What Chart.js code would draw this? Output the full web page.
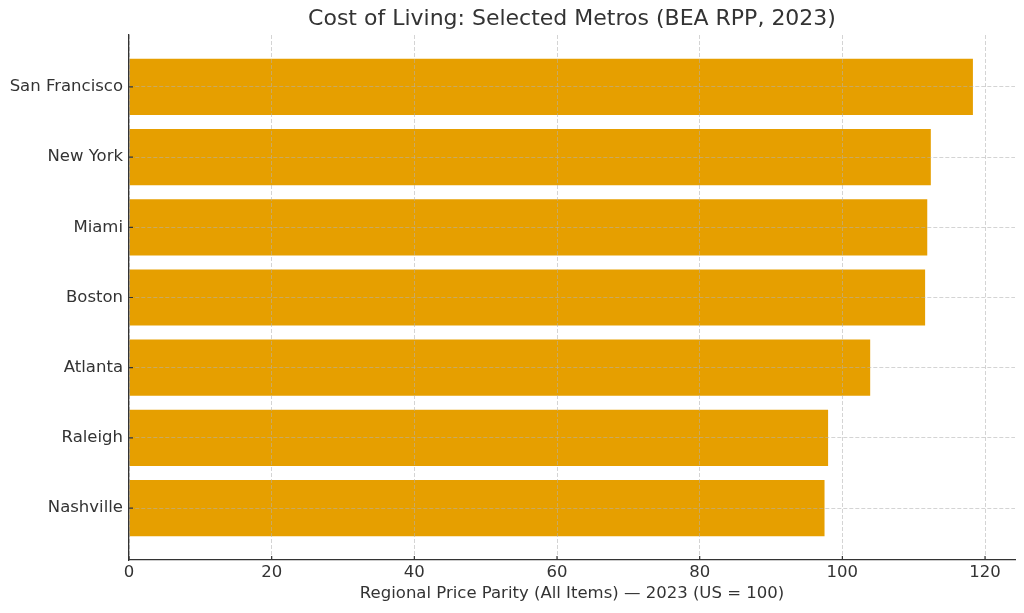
<!DOCTYPE html>
<html>
<head>
<meta charset="utf-8">
<title>Cost of Living: Selected Metros</title>
<script src="https://cdn.jsdelivr.net/npm/chart.js@4.4.1/dist/chart.umd.min.js"></script>
<style>
    html, body { margin: 0; padding: 0; background: #fff; }
    #wrap { width: 1024px; height: 613px; }
</style>
</head>
<body>
<div id="wrap"><canvas id="rppChart"></canvas></div>
<script>
// ===== Data =====
const metros = ["San Francisco", "New York", "Miami", "Boston", "Atlanta", "Raleigh", "Nashville"];
const rppValues = [118.3, 112.4, 111.9, 111.6, 103.9, 98.0, 97.5];
const xTicks = [0, 20, 40, 60, 80, 100, 120];
const chartTitle = "Cost of Living: Selected Metros (BEA RPP, 2023)";

const axisColor = "#333333";
const gridColor = "rgba(176, 176, 176, 0.55)";
const fontFamily = "'DejaVu Sans', sans-serif";

// ===== Title centred over the plot area, plus inward tick marks =====
const plotExtras = {
    id: "plotExtras",
    afterDraw(chart) {
        const { ctx, chartArea, scales } = chart;
        ctx.save();
        ctx.fillStyle = axisColor;
        ctx.font = `22px ${fontFamily}`;
        ctx.textAlign = "center";
        ctx.textBaseline = "middle";
        ctx.fillText(chartTitle, (chartArea.left + chartArea.right) / 2, 19);

        // short ticks pointing into the plot
        ctx.strokeStyle = axisColor;
        ctx.lineWidth = 1.2;
        ctx.beginPath();
        scales.x.ticks.forEach((t) => {
            const px = scales.x.getPixelForValue(t.value);
            ctx.moveTo(px, chartArea.bottom);
            ctx.lineTo(px, chartArea.bottom - 4);
        });
        scales.y.ticks.forEach((t) => {
            const py = scales.y.getPixelForValue(t.value);
            ctx.moveTo(chartArea.left, py);
            ctx.lineTo(chartArea.left + 4, py);
        });
        ctx.stroke();
        ctx.restore();
    }
};

// ===== Chart =====
const ctx = document.getElementById("rppChart").getContext("2d");
new Chart(ctx, {
    type: "bar",
    data: {
        datasets: [{
            label: "RPP",
            data: rppValues.map((v, i) => ({ x: v, y: i })),
            backgroundColor: "#E69F00",
            borderWidth: 0,
            barPercentage: 0.8,
            categoryPercentage: 1
        }]
    },
    plugins: [plotExtras],
    options: {
        indexAxis: "y",
        responsive: true,
        maintainAspectRatio: false,
        animation: false,
        layout: { padding: { left: 0, right: 9, top: 35, bottom: 9 } },
        plugins: {
            legend: { display: false },
            tooltip: { enabled: false },
            title: { display: false }
        },
        scales: {
            x: {
                type: "linear",
                min: 0,
                max: 124.2,
                afterBuildTicks: (scale) => { scale.ticks = xTicks.map(v => ({ value: v })); },
                afterFit: (scale) => { scale.height = 44; },
                ticks: {
                    color: axisColor,
                    padding: 3,
                    font: { family: fontFamily, size: 16.5 }
                },
                grid: {
                    z: 1,
                    color: gridColor,
                    drawTicks: false
                },
                border: { z: 2, display: true, color: axisColor, width: 1.3, dash: [4, 2] },
                title: {
                    display: true,
                    text: "Regional Price Parity (All Items) — 2023 (US = 100)",
                    color: axisColor,
                    font: { family: fontFamily, size: 16.5 },
                    padding: { top: 0, bottom: 0 }
                }
            },
            y: {
                type: "linear",
                reverse: true,
                offset: false,
                min: -0.74,
                max: 6.74,
                afterBuildTicks: (scale) => { scale.ticks = metros.map((m, i) => ({ value: i })); },
                afterFit: (scale) => { scale.width = 129; },
                ticks: {
                    color: axisColor,
                    padding: 6,
                    font: { family: fontFamily, size: 16.5 },
                    callback: (value) => metros[value]
                },
                grid: {
                    z: 1,
                    offset: false,
                    color: gridColor,
                    drawTicks: false
                },
                border: { z: 2, display: true, color: axisColor, width: 1.3, dash: [4, 2] }
            }
        }
    }
});
</script>
</body>
</html>
